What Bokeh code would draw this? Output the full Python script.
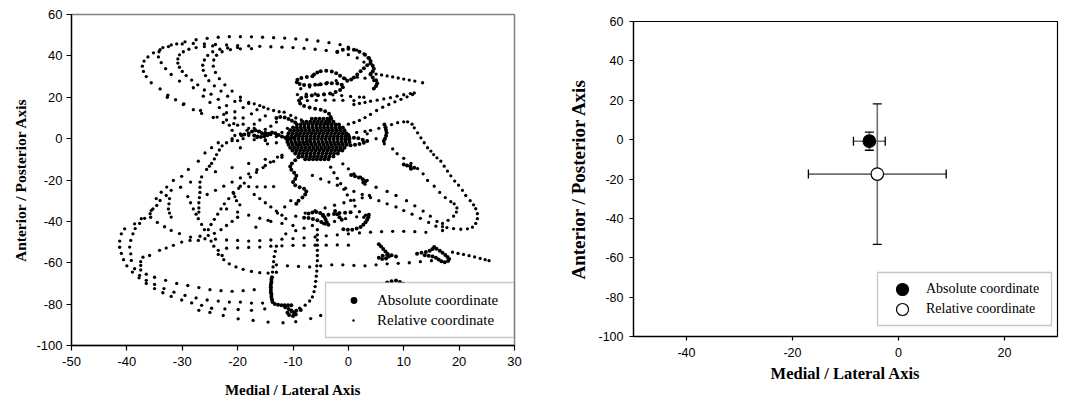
from bokeh.plotting import figure
from bokeh.models import (ColumnDataSource, Whisker, TeeHead, Legend, LegendItem,
                          BoxAnnotation, FixedTicker, Range1d)
from bokeh.embed import file_html
from bokeh.resources import INLINE
from bokeh.core.templates import get_env

# ---------------- data: left panel (trajectory) ----------------
x_ticks_left = [-50, -40, -30, -20, -10, 0, 10, 20, 30]
y_ticks = [-100, -80, -60, -40, -20, 0, 20, 40, 60]
x_ticks_right = [-40, -20, 0, 20]

rel_hook1 = [(-12,1),(-14,2),(-16,3.5),(-18,5),(-20,6.5),(-22.6,7.8),(-24.4,10.2),(-26.5,12.2),(-28,14),(-29.8,16.5),(-31.2,18.8),(-32.6,21),(-34,24),(-35.6,27),(-36.5,30),(-37,32.5),(-37.2,35),(-36.9,37.5),(-36.2,39.5),(-35.2,41.5),(-34,43),(-32.5,44.5),(-31,45.8),(-29.5,46.8),(-27.5,47.8),(-25.5,48.5),(-23.5,49),(-21.5,49.3),(-19.5,49.3),(-17.5,49.2),(-15.5,49),(-13.5,48.8),(-11.5,48.6),(-9.5,48.2),(-7.5,47.8),(-5.5,47.2),(-3.5,46.4),(-1.5,45.4),(0,44.2),(1.5,42.8),(2.8,41),(3.8,39)]
rel_hook2 = [(-11,-1),(-13,1),(-15,3),(-17,5),(-19,7),(-20.5,10),(-22,12.5),(-23.3,15),(-25,17.5),(-26.2,20.5),(-28,24.6),(-30.5,27.8),(-32,31),(-33,33.8),(-33.8,36.7),(-34.3,39.5),(-34.2,42),(-33.5,44),(-32,45.3),(-30,45.8),(-28,46),(-26,45.8),(-24,45.5),(-22,45.3),(-20,45),(-18,44.8),(-16,44.6),(-14,44.4),(-12,44.2),(-10,44),(-8,43.6),(-6,43.2),(-4,42.6),(-2,41.8),(0,40.6),(1.6,39),(2.8,37)]
rel_hook3 = [(-9,-3),(-11,-0.5),(-13,2),(-15,4.5),(-17,7),(-19,10),(-20.5,13),(-22,16),(-23.5,19),(-24.8,21.5),(-26,23.5),(-27.2,26),(-28.3,28.3),(-29.3,30.5),(-30,32.5),(-30.5,34.5),(-30.8,36.5),(-30.8,38.5),(-30.5,40.5),(-29.8,42),(-28.8,43.2),(-27.5,44),(-26,44.5),(-24.5,44.8)]
rel_hook4 = [(-8,-2),(-10,0.5),(-12,3),(-14,6),(-16,9),(-17.5,12),(-19,15),(-20.5,18),(-21.8,20.5),(-23,23),(-24.2,25.5),(-25.2,28),(-25.8,30.5),(-26.2,33),(-26.3,35.5),(-26,38),(-25.4,40.2),(-24.5,42),(-23.2,43.2),(-21.8,43.8),(-20,44)]
rel_hook5 = [(-7,-1),(-9,2),(-11,5),(-13,8),(-15,11),(-16.5,14),(-18,17),(-19.5,20),(-21,23),(-22.3,26),(-23.3,29),(-24,32),(-24.4,35),(-24.3,38),(-23.8,40.3),(-22.8,42),(-21.3,43),(-19.5,43.4),(-17.5,43.5)]
rel_tail_top = [(4,31.5),(5,31.2),(6,30.8),(7,30.3),(8,29.8),(9,29.3),(10,28.8),(11,28.3),(12,27.8),(13.4,27)]
rel_vee = [(1,16.5),(2,17),(3,17.5),(4,18.1),(5.2,18.6),(6.4,19.2),(7.6,19.8),(8.8,20.5),(10,21.2),(11.2,21.8),(11.9,22.1),(11.6,21.3),(10.6,20.2),(9.5,19),(8.4,17.8),(7.3,16.5),(6.2,15.2),(5.1,13.6),(4,11.7),(3,10.2),(2,8.8),(1,7.8),(0,7)]
rel_right_loop = [(0,2),(1.5,3),(3,3.5),(4,4),(5.5,5),(6.7,5.2),(7.8,6.8),(8.9,7.7),(10,8.1),(10.7,8.1),(11.5,7),(11.9,5.2),(12.5,2.8),(13.1,0.4),(13.7,-2),(14.3,-4.4),(14.9,-6),(15.4,-7.7),(16,-9.3),(16.7,-10.9),(17.3,-13.3),(17.9,-15.7),(18.5,-18),(19.2,-20.5),(19.9,-22.5),(20.6,-25),(21.2,-27.5),(22,-30),(22.6,-32),(23,-33.9),(23.3,-36.3),(23.3,-38.7),(23,-41),(22.4,-42.8),(21.5,-43.6),(20.3,-43.8),(19,-43.5),(17.8,-43)]
rel_right_inner = [(3.4,2.3),(5,0),(6.5,-2.5),(8,-5),(8.8,-7.3),(10,-9.5),(11.3,-12),(12.5,-14.5),(13.5,-17),(14.3,-20.2),(15.5,-23),(16.5,-26),(17.5,-28.5),(18.5,-30.5),(19.1,-31.5),(19.6,-33.5),(19.5,-35.5),(19,-37.5),(18,-39.5),(17,-41)]
rel_diag1 = [(-6.5,-17.8),(-5,-19.5),(-3.5,-21),(-2,-22.5),(-0.5,-24),(1,-25.5),(2.5,-27),(4,-28.5),(5.5,-30),(7,-31.5),(8.6,-33),(10,-34.8),(11.5,-36.5),(13,-38.5),(14.5,-40.5),(15.8,-42.3),(17,-44.4)]
rel_diag2 = [(3,-22),(5,-23.5),(7,-25.5),(8.6,-27.5),(10.5,-30),(12,-32.5),(13.5,-35),(14.8,-37.5),(16,-40),(17,-42.5)]
rel_row61 = [(-13,-61),(-11,-61.5),(-9,-61.8),(-7,-62),(-5,-61.5),(-3,-61),(-1,-61),(1,-61.3),(3,-61.5),(5,-61),(7,-60.5),(9,-60.3),(11,-60),(13,-59.5),(15,-59)]
rel_row49 = [(-24,-48.6),(-22,-49),(-20,-49.2),(-18,-49.5),(-16,-49.3),(-14,-49),(-12,-48.6),(-10,-48.3),(-8,-48),(-6,-47.5),(-4,-47),(-2,-46.5),(0,-46),(2,-45.6),(4,-45.2),(6,-45),(8,-44.8),(10,-44.8),(12,-45),(14,-45.3)]
rel_row52 = [(-22,-53),(-20,-52.8),(-18,-52.6),(-16,-52.4),(-14,-52),(-12,-51.8),(-10,-51.6),(-8,-51.6),(-6,-51.5),(-4,-51.5),(-2,-51.4),(0,-51.5)]
rel_arc63 = [(-23.5,-56),(-22.5,-58.5),(-21.5,-60.5),(-20.3,-62),(-19,-63.2),(-17.5,-64.2),(-16,-64.8),(-14.5,-65),(-13,-64.6)]
rel_vert5 = [(-5.6,-44),(-5.6,-46.5),(-5.6,-49),(-5.6,-51.5),(-5.6,-54),(-5.6,-56.5),(-5.6,-59),(-5.7,-61.5),(-5.7,-64),(-5.8,-66.5),(-5.9,-69),(-6,-71.5),(-6.2,-74),(-6.5,-76.5),(-7,-78.5),(-7.8,-80.5),(-8.8,-82)]
rel_vert13 = [(-13,-52),(-13.2,-54.5),(-13.4,-57),(-13.5,-59.5),(-13.6,-62),(-13.7,-64.5)]
rel_bottom = [(-27,-83),(-25,-84),(-22.6,-85.5),(-19.9,-87.1),(-17.2,-87.9),(-14.5,-88.7),(-11.8,-89),(-9.5,-88.5),(-6.8,-87),(-5,-85.5),(-3,-84.5)]
rel_diag3 = [(-11.3,-38.7),(-9.5,-37.5),(-7.8,-36),(-6,-34.8),(-4.2,-33.5),(-2.5,-32.2),(-0.8,-31),(1,-29.8),(2.5,-28.6),(3.8,-27.5)]
rel_diag4 = [(-11.3,-46),(-9.5,-44.5),(-8,-43.3),(-6.5,-42),(-4.5,-41),(-2.5,-40),(-0.5,-38.7),(1.5,-37.8),(3.1,-37)]
rel_diag5 = [(-25.3,-44),(-24.8,-41.5),(-24.2,-39),(-23.6,-36.5),(-23,-34),(-22.4,-31.5),(-21.6,-29),(-20.7,-26.5),(-19.8,-24),(-18.8,-21.5),(-17.7,-18.6),(-16.6,-16.3),(-15.4,-14),(-14.1,-11.4),(-12.8,-8.9)]
rel_diag6 = [(-3.2,-13.8),(-2.6,-16.5),(-2,-19.2),(-1.4,-21.8),(-0.8,-24.5),(-0.2,-27.2),(0.4,-29.9),(1.2,-32.6),(2,-35.3),(2.8,-38)]
rel_tail_right = [(18.8,-54.9),(19.8,-55.5),(20.8,-56),(21.8,-56.6),(22.8,-57.2),(23.8,-57.9),(24.7,-58.5),(25.4,-59)]
rel_low1 = [(-13,-2),(-15,-1),(-17,-0.5),(-19,0),(-21,0),(-23.5,-2),(-24.7,-4.4),(-25.9,-6.9),(-27.1,-10.9),(-28.9,-14.9),(-30.1,-18.2),(-31.6,-20.2),(-32.8,-23.4),(-33.8,-25.9),(-34.7,-29),(-35.6,-34.7),(-37.4,-38.7),(-38.6,-41.2),(-40.4,-43.6),(-41,-46),(-41.3,-49.5),(-41.3,-52.5),(-41,-55.5),(-40.6,-58.5),(-40,-61.5),(-39,-64.5),(-37.8,-67.3),(-36.5,-70),(-35,-72.5),(-33.5,-74.5),(-32,-76.3),(-30.1,-78),(-28.3,-79.4),(-26.5,-80.6),(-24.7,-82),(-22.3,-82.3),(-19.9,-82.6),(-17.5,-83),(-15.1,-82.3)]
rel_low2 = [(-12,-8),(-15,-10),(-18,-12),(-21,-14),(-24,-16),(-26.5,-18.5),(-28.5,-21),(-30.3,-23.5),(-32,-25),(-32.9,-27.5),(-34,-29.9),(-34.6,-32.3),(-35.3,-34),(-35.8,-36.3),(-36.8,-38.5),(-37.7,-41),(-38.5,-43.5),(-38.9,-46),(-39.3,-49.2),(-39.5,-52.4),(-39.3,-55.7),(-39.2,-58.9),(-38.6,-62.9),(-37.7,-66.1),(-36.5,-68.5),(-35,-70.5),(-33.3,-72.5),(-31.5,-74.2),(-29.5,-75.8),(-27.5,-77),(-25.5,-78),(-23.5,-78.5),(-21.5,-79),(-19.5,-79),(-17.5,-79.5),(-15.5,-79.5)]
rel_low3 = [(-25.9,-48.4),(-27.1,-49.2),(-28.6,-49.2),(-30.1,-50),(-31.6,-51.6),(-32.9,-52.9),(-34.1,-54),(-35.9,-56.5),(-37.1,-57.3),(-37.5,-59.5),(-37.5,-61.3),(-37.5,-63.5),(-36.5,-65.5),(-35,-67),(-33,-68.5),(-31,-70),(-29,-71),(-27,-72),(-25,-73),(-23,-73.5),(-21,-73.8),(-19,-73.5),(-17,-73)]
rel_low4 = [(-35.7,-38),(-34.5,-40.5),(-33.2,-42.6),(-32,-44.4),(-30.5,-45.9),(-28.5,-47.6),(-26.8,-47.2)]
rel_cross = [(-29,-28),(-28.5,-31),(-28,-34),(-27.5,-36.5),(-27.1,-38.7),(-26.5,-41.5),(-26,-44),(-25.3,-46.8),(-24.8,-49.5),(-24.3,-52),(-23.5,-54),(-22.8,-56.5),(-20,-38),(-21,-40),(-22,-42),(-23,-44),(-24.2,-45.8)]
rel_verticals = [(-26.8,-21),(-26.8,-23.5),(-26.8,-26),(-26.9,-28.5),(-27,-31),(-27,-33.5),(-27,-35.5),(-20.8,-26),(-20.5,-28),(-20.2,-30),(-19.6,-32),(-32.3,-29),(-32.4,-31.5),(-32.5,-34),(-32.3,-36),(-32,-37.9)]
rel_centre_left = [(-19.5,18.4),(-18,17.5),(-17,16.8),(-16,16),(-15.3,15.2),(-14.5,14.4),(-13.5,13.6),(-12.5,13),(-11.6,12.8),(-10.4,11.2),(-9.5,10),(-8.5,9),(-22.5,11.7),(-22,9),(-21.5,6.5),(-21,4),(-20.5,1.5),(-20,-1),(-19.5,-4.4),(-19.5,2.3),(-18,1.5),(-16.5,0.5),(-15,-0.5),(-14.6,-2.5),(-25.6,-14.9),(-25.1,-13.3),(-24.7,-12),(-24.2,-9.8),(-23.8,-7.7),(-23.3,-5.5),(-22.8,-3.5),(-22,-2),(-21,-1),(-32.7,20),(-29.7,16.8),(-26.7,13.6),(-23.7,10.4),(-20.7,7.2),(-18.3,4)]
rel_centre_up = [(-8.6,24.1),(-7,25),(-5.4,26),(-3.8,27),(-2.2,28),(-0.6,29),(1.6,29.7),(3,29.2),(4.6,28.1),(-7.4,18.4),(-5.8,18.5),(-4.2,18.6),(-2.6,18.6),(-1,18.5),(1,18.4),(-9.2,21.3),(-7.6,21.5),(-6,21.6),(-4.4,21.5),(-2.8,21.2),(-1.2,20.8),(0.4,20.4),(2,20.1),(2.8,20)]
rel_centre_down = [(-1,-12.2),(0,-14.6),(1,-17),(2.2,-18.6),(3.4,-20.2),(-19.5,-23),(-18,-23.2),(-16.5,-23.3),(-15,-23.3),(-13.5,-23.2),(-12,-9),(-13.5,-11),(-15,-13),(-16.5,-15),(-18,-17),(-19.5,-19),(-21,-21),(-22.5,-23),(-24,-25),(-25.5,-27),(-17,-27),(-16,-29),(-15,-31),(-14,-33),(-13,-35),(-12,-37),(-22,-34),(-20,-35.5),(-18,-37),(-16,-38.5),(-14,-40),(-12,-41),(-10,-42),(-10.4,-30),(-11.5,-33),(-12.8,-36),(-14.5,-39.5),(-16.7,-42.8)]

# absolute coordinate: dense central cluster (rows of y with x positions) and thick curls
abs_blob_rows = [
    (9.6, [-6.6,-5.9,-5.2,-4.5,-3.8,-3.1]),
    (8.2, [-8.3,-7.6,-6.9,-6.2,-5.5,-4.8,-4.1,-3.4,-2.7]),
    (6.8, [-9.3,-8.6,-7.9,-7.2,-6.5,-5.8,-5.1,-4.4,-3.7,-3.0,-2.3,-1.7]),
    (5.4, [-10.0,-9.3,-8.6,-7.9,-7.2,-6.5,-5.8,-5.1,-4.4,-3.7,-3.0,-2.3,-1.6,-1.0]),
    (4.0, [-10.5,-9.8,-9.1,-8.4,-7.7,-7.0,-6.3,-5.6,-4.9,-4.2,-3.5,-2.8,-2.1,-1.4,-0.7]),
    (2.6, [-10.8,-10.1,-9.4,-8.7,-8.0,-7.3,-6.6,-5.9,-5.2,-4.5,-3.8,-3.1,-2.4,-1.7,-1.0,-0.4]),
    (1.2, [-11.0,-10.3,-9.6,-8.9,-8.2,-7.5,-6.8,-6.1,-5.4,-4.7,-4.0,-3.3,-2.6,-1.9,-1.2,-0.5,0.1]),
    (-0.2, [-11.1,-10.4,-9.7,-9.0,-8.3,-7.6,-6.9,-6.2,-5.5,-4.8,-4.1,-3.4,-2.7,-2.0,-1.3,-0.6,0.1]),
    (-1.6, [-11.0,-10.3,-9.6,-8.9,-8.2,-7.5,-6.8,-6.1,-5.4,-4.7,-4.0,-3.3,-2.6,-1.9,-1.2,-0.5,0.2]),
    (-3.0, [-10.8,-10.1,-9.4,-8.7,-8.0,-7.3,-6.6,-5.9,-5.2,-4.5,-3.8,-3.1,-2.4,-1.7,-1.0,-0.3]),
    (-4.4, [-10.5,-9.8,-9.1,-8.4,-7.7,-7.0,-6.3,-5.6,-4.9,-4.2,-3.5,-2.8,-2.1,-1.4,-0.7]),
    (-5.8, [-10.1,-9.4,-8.7,-8.0,-7.3,-6.6,-5.9,-5.2,-4.5,-3.8,-3.1,-2.4,-1.7,-1.1]),
    (-7.2, [-9.6,-8.9,-8.2,-7.5,-6.8,-6.1,-5.4,-4.7,-4.0,-3.3,-2.6,-1.9]),
    (-8.6, [-9.0,-8.3,-7.6,-6.9,-6.2,-5.5,-4.8,-4.1,-3.4,-2.7]),
    (-10.0, [-7.8,-7.1,-6.4,-5.7,-5.0,-4.3,-3.6]),
]
abs_tail_left = [(-19.3,1.6),(-18.8,2),(-18,2.5),(-17.4,3.5),(-16.8,4),(-16.2,3.4),(-15.6,2.6),(-15,2),(-14.4,2.4),(-13.8,3),(-13.2,2.6),(-12.6,1.8),(-12,1),(-11.4,0.4),(-10.8,0),(-17,1.5),(-16.4,1),(-15.8,0.8),(-15.2,1.2),(-14.6,1.6),
                 (-13,10),(-12.3,10.5),(-11.5,10.2),(-10.8,9.5),(-10.2,8.6),(-9.6,7.8)]
abs_upper = [(-4,7.5),(-3.5,9),(-3.2,10.5),(-3.5,12),(-4.2,13.2),(-5,14),(-6,14.5),(-7,15),(-8,15.8),(-8.7,17),(-8.9,18.4),(-8.5,19.6),(-7.6,20.4),(-6.6,20.8),(-5.5,21),(-4.4,21.3),(-3.3,21.8),(-2.3,22.5),(-1.5,23.5),(-1,24.8),(-1.2,26),(-2,26.6),(-3,26.8),(-4,26.6),(-5,26.3),(-6,26),(-7,25.8),(-8,25.9),(-8.8,26.4),(-9.3,27.3),(-9.2,28.4),(-8.5,29.3),(-7.5,29.8),(-6.5,30.2),(-6.2,31),(-5.6,32),(-5,32.6),(-4,32.8),(-3,32.4),(-2.2,31.6),(-1.5,30.4),(-0.8,29.2),(-0.2,28),(0.5,28.6),(1,29.6),(1.6,31),(2.2,32.6),(2.8,34),(3.4,35.5),(4,36.4),(4.4,35.2),(4.6,33.8),(4.4,32.4),(4,31),(4.4,29.6),(5,28.2),(5.2,26.8),(5,25.4),(4.6,24.2),(-2,42),(-1,43),(0,43.4),(1,43),(2,42),(3,40.5),(3.6,39),(4,37.5)]
abs_right = [(-0.5,-0.5),(0.2,0),(1,0.4),(1.8,0.2),(2.6,-0.5),(3.4,-1.2),(2.8,-2),(2,-2.6),(1.2,-3),(0.4,-3.2),(6.5,6.8),(6.7,5.5),(6.8,4.2),(6.9,2.8),(6.8,1.4),(6.6,0),(6.4,-1.2),(10,-12.5),(10.6,-13),(11.2,-13.5),(11.9,-14.1),(11.3,-14.6)]
abs_down = [(-9,-9),(-9.6,-10.5),(-10.2,-12),(-10.5,-13.5),(-10.3,-15),(-9.8,-16.5),(-9.4,-18),(-9.6,-19.5),(-10,-21),(-9.6,-22.5),(-8.8,-23.5),(-8,-24.2),(-7.6,-25.5),(-7.8,-27),(-8.3,-28.5),(-9,-30),(-9.4,-31.5),(0.5,-17.6),(1.2,-18.2),(1.9,-18.8),(2.6,-19.6),(3.1,-20.6),(2.7,-21.2)]
abs_curls = [(-7.2,-36.2),(-6.5,-35.7),(-5.8,-35.5),(-5.1,-35.9),(-4.6,-36.8),(-4.3,-38),(-4.1,-39.2),(-3.9,-40.4),(-3.6,-41.6),(-4.2,-41.2),(-4.9,-40.3),(-5.6,-39.4),(-6.4,-38.8),(-7.2,-38.4),(-8,-38.2),
             (3.7,-36.8),(3.6,-38),(3.4,-39.2),(3.1,-40.4),(2.7,-41.6),(2.2,-42.7),(1.5,-43.5),(0.7,-44),(-0.1,-44.1),(-0.9,-43.8),
             (-4.6,-37.2),(-3.6,-36.8),(-2.6,-36.4),(-1.6,-36),(-0.6,-35.8),(0.4,-35.6),(-2.4,-35),(-2,-36.5),(-1.6,-38),(-1.2,-39.2),
             (5.5,-51),(5.9,-52.2),(6.3,-53.4),(6.7,-54.6),(7.1,-55.8),(7.3,-57),(6.8,-57.9),(6.1,-58.2),(5.5,-57.6),(6.2,-56.6),(7,-56.2),(7.8,-56.4),(8.6,-57),
             (12.4,-55.6),(13.2,-55.2),(14,-54.8),(14.7,-54.2),(15.2,-53.4),(15.5,-52.4),(15.9,-53.2),(16.5,-54.2),(17,-55.2),(17.5,-56.2),(17.9,-57.2),(18.2,-58.2),(18,-59.2),(17.4,-59.8),(16.8,-59.3),(16.3,-58.4),(15.8,-57.6),(15.2,-57),(14.5,-56.6),(13.8,-56.4),
             (7,-69.5),(7.8,-69),(8.6,-68.6),(9.3,-69.3),(9.9,-70.2),(10.3,-71.3),(9.6,-71.8),(8.8,-71.4)]
abs_bottom = [(-13.8,-67),(-13.9,-68.2),(-13.9,-69.4),(-14,-70.6),(-14,-71.8),(-14,-73),(-14,-74.2),(-13.9,-75.4),(-13.9,-76.6),(-13.8,-77.8),(-13.7,-79),(-13.3,-79.9),(-12.7,-80.3),(-12.1,-80.5),(-11.5,-80.6),(-10.9,-80.6),(-10.3,-80.6),
              (-11.4,-81.5),(-10.8,-82.3),(-10.3,-83.1),(-9.8,-84),(-9.5,-85),(-10,-85.8),(-10.7,-85.3),(-11,-84.2),(-10.2,-83.6),(-9.4,-83.2),(-8.6,-82.8)]

# ---------------- data: right panel (means and SD) ----------------
series_names = ["Absolute coordinate", "Relative coordinate"]
mean_ml = [-5.5, -4.0]
mean_ap = [-0.8, -17.5]
sd_ml = [3.0, 13.0]
sd_ap = [4.6, 35.7]

# ---------------- assemble ----------------
rel_strokes = [rel_hook1, rel_hook2, rel_hook3, rel_hook4, rel_hook5, rel_tail_top, rel_vee,
               rel_right_loop, rel_right_inner, rel_diag1, rel_diag2, rel_row61, rel_row49,
               rel_row52, rel_arc63, rel_vert5, rel_vert13, rel_bottom, rel_diag3, rel_diag4,
               rel_diag5, rel_diag6, rel_tail_right, rel_low1, rel_low2, rel_low3, rel_low4,
               rel_cross, rel_verticals, rel_centre_left, rel_centre_up, rel_centre_down]
rel_x = [pt[0] for s in rel_strokes for pt in s]
rel_y = [pt[1] for s in rel_strokes for pt in s]

abs_strokes = [abs_tail_left, abs_upper, abs_right, abs_down, abs_curls, abs_bottom]
abs_x = [x for yv, xs in abs_blob_rows for x in xs] + [pt[0] for s in abs_strokes for pt in s]
abs_y = [yv for yv, xs in abs_blob_rows for x in xs] + [pt[1] for s in abs_strokes for pt in s]

SANS = "Liberation Sans"
SERIF = "Liberation Serif"


def style_axes(p, tick_size, title_size, xticks, tick_out):
    p.xaxis.ticker = FixedTicker(ticks=xticks)
    p.yaxis.ticker = FixedTicker(ticks=y_ticks)
    p.xaxis.major_label_overrides = {t: str(t) for t in xticks}
    p.yaxis.major_label_overrides = {t: str(t) for t in y_ticks}
    for ax in (p.xaxis[0], p.yaxis[0]):
        ax.axis_line_color = "black"
        ax.axis_line_width = 1.3
        ax.major_tick_line_color = "black"
        ax.major_tick_line_width = 1.2
        ax.major_tick_out = tick_out
        ax.major_tick_in = 0
        ax.minor_tick_line_color = None
        ax.major_label_text_font = SANS
        ax.major_label_text_font_size = tick_size
        ax.major_label_text_color = "black"
        ax.axis_label_text_font = SERIF
        ax.axis_label_text_font_style = "bold"
        ax.axis_label_text_color = "black"
    p.xaxis.axis_label_text_font_size = title_size[0]
    p.yaxis.axis_label_text_font_size = title_size[1]
    p.xgrid.grid_line_color = None
    p.ygrid.grid_line_color = None
    p.background_fill_color = "white"
    p.border_fill_color = "white"


def row_legend(item, loc, gw, gh, standoff, font_size):
    return Legend(items=[item], location=loc, glyph_width=gw, glyph_height=gh,
                  label_standoff=standoff, padding=0, spacing=0, margin=0,
                  label_height=gh, border_line_color=None, background_fill_alpha=0,
                  label_text_font=SERIF, label_text_font_size=font_size,
                  label_text_color="black", label_text_baseline="middle")


# ---------------- left figure ----------------
p1 = figure(width=540, height=403, x_range=Range1d(-50, 30), y_range=Range1d(-100, 60),
            output_backend="svg", toolbar_location=None,
            min_border_left=71, min_border_right=26, min_border_top=14, min_border_bottom=58)
style_axes(p1, "13px", ("15px", "15.5px"), x_ticks_left, 5)
p1.xaxis.axis_label = "Medial / Lateral Axis"
p1.yaxis.axis_label = "Anterior / Posterior Axis"
p1.xaxis.major_label_standoff = 6
p1.xaxis.axis_label_standoff = 13
p1.yaxis.major_label_standoff = 4
p1.yaxis.axis_label_standoff = 4
p1.outline_line_color = "#808080"
p1.outline_line_width = 1.5

r_rel = p1.scatter(rel_x, rel_y, size=3.3, fill_color="black", line_color=None)
r_abs = p1.scatter(abs_x, abs_y, size=4.0, fill_color="black", line_color=None)

box1 = BoxAnnotation(left=254, right=442.5, bottom=8, top=63,
                     left_units="screen", right_units="screen", bottom_units="screen", top_units="screen",
                     fill_color="white", fill_alpha=1.0, line_color="#505050", line_width=1.3)
p1.add_layout(box1, "center")
p1.add_layout(row_legend(LegendItem(label=series_names[0], renderers=[r_abs]), (274, 35), 17, 20, 15, "15px"), "center")
p1.add_layout(row_legend(LegendItem(label=series_names[1], renderers=[r_rel]), (279, 15), 6, 20, 21, "15px"), "center")

# ---------------- right figure ----------------
p2 = figure(width=524, height=403, x_range=Range1d(-50, 30), y_range=Range1d(-100, 60),
            output_backend="svg", toolbar_location=None,
            min_border_left=93, min_border_right=7, min_border_top=21, min_border_bottom=67)
style_axes(p2, "12.5px", ("16.5px", "19px"), x_ticks_right, 4)
p2.xaxis.axis_label = "Medial / Lateral Axis"
p2.yaxis.axis_label = "Anterior / Posterior Axis"
p2.xaxis.major_label_standoff = 7
p2.xaxis.axis_label_standoff = 4
p2.yaxis.major_label_standoff = 6
p2.yaxis.axis_label_standoff = 6
p2.outline_line_color = "black"
p2.outline_line_width = 1.2

src = ColumnDataSource(dict(
    x=mean_ml, y=mean_ap,
    xl=[m - s for m, s in zip(mean_ml, sd_ml)], xu=[m + s for m, s in zip(mean_ml, sd_ml)],
    yl=[m - s for m, s in zip(mean_ap, sd_ap)], yu=[m + s for m, s in zip(mean_ap, sd_ap)],
))


def tee():
    return TeeHead(size=9, line_color="black", line_width=1.3)


p2.add_layout(Whisker(source=src, base="x", lower="yl", upper="yu", dimension="height",
                      line_color="#6e6e6e", line_width=1.6, lower_head=tee(), upper_head=tee()))
p2.add_layout(Whisker(source=src, base="y", lower="xl", upper="xu", dimension="width",
                      line_color="#6e6e6e", line_width=1.6, lower_head=tee(), upper_head=tee()))

r_abs2 = p2.scatter([mean_ml[0]], [mean_ap[0]], size=12.5, fill_color="black", line_color="black", line_width=1.2)
r_rel2 = p2.scatter([mean_ml[1]], [mean_ap[1]], size=12.5, fill_color="white", line_color="black", line_width=1.2)

box2 = BoxAnnotation(left=244, right=418, bottom=11, top=64,
                     left_units="screen", right_units="screen", bottom_units="screen", top_units="screen",
                     fill_color="white", fill_alpha=1.0, line_color="#404040", line_width=1.3)
p2.add_layout(box2, "center")
p2.add_layout(row_legend(LegendItem(label=series_names[0], renderers=[r_abs2]), (254, 32), 30, 30, 9, "14px"), "center")
p2.add_layout(row_legend(LegendItem(label=series_names[1], renderers=[r_rel2]), (254, 12), 30, 30, 9, "14px"), "center")

# two independent roots side by side (no frame alignment between them)
page = get_env().from_string("""{% extends base %}
{% block contents %}
<div style="display:flex;flex-direction:row;align-items:flex-start;">
<div>{{ embed(roots[0]) }}</div>
<div>{{ embed(roots[1]) }}</div>
</div>
{% endblock %}""")

open("out.html", "w").write(file_html([p1, p2], INLINE, template=page))
